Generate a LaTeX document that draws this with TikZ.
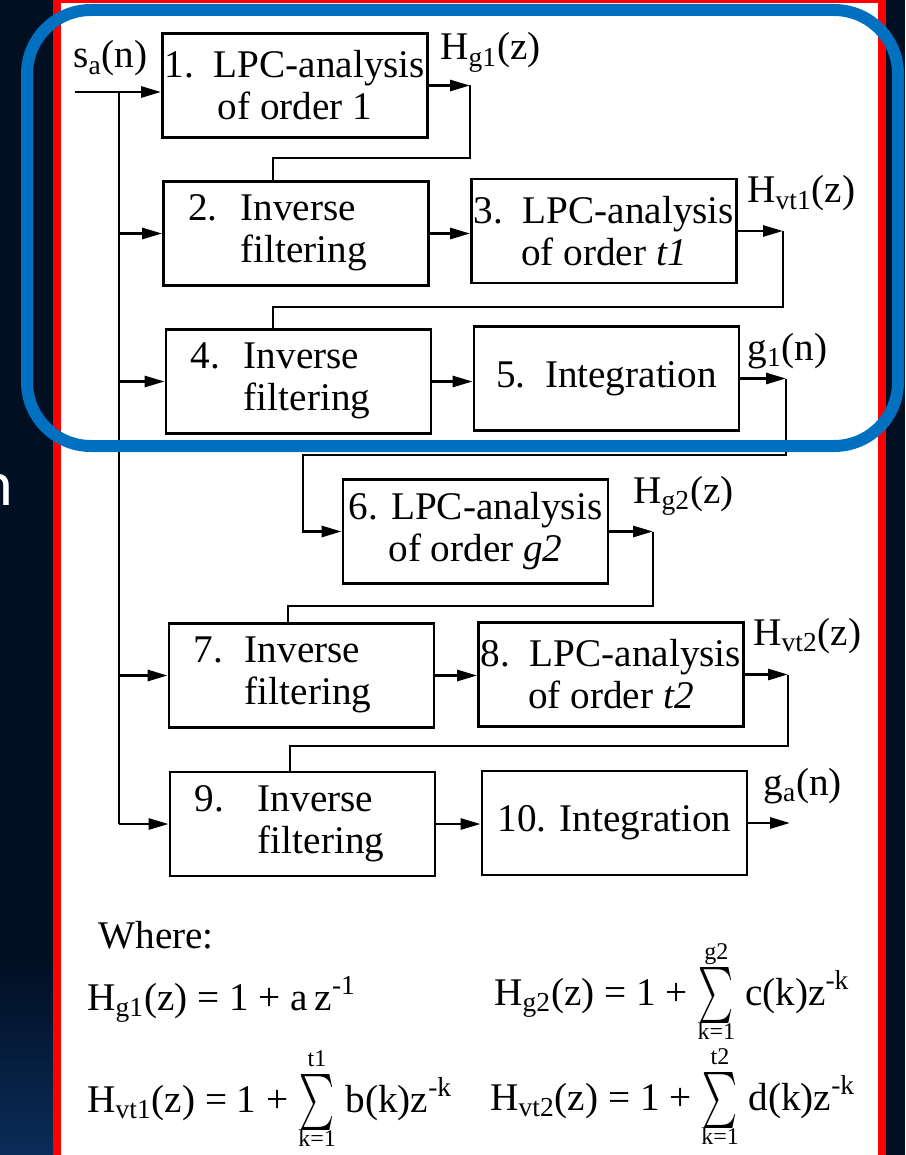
\documentclass[tikz,border=0pt]{standalone}
\usepackage{amsmath}
\usepackage{graphicx}
\usepackage{fontspec}
\setmainfont{Liberation Serif}
\newfontfamily\slidefont{Carlito}
\usepackage{tikz}
\usetikzlibrary{arrows.meta, positioning, calc}
\definecolor{slidenavy}{HTML}{010F23}
\definecolor{slidedeep}{HTML}{0A2C58}
\definecolor{framered}{HTML}{FF0000}
\definecolor{markblue}{HTML}{0070C0}
\newcommand{\bodyfont}{\fontsize{19.6}{21}\selectfont}
\newcommand{\nsum}[2]{$\vcenter{\hbox{\fontsize{12}{10}\selectfont\begin{tabular}{@{}c@{}}#2\\[1pt]\scalebox{0.8}[1.35]{\bodyfont$\textstyle\sum$}\\[3pt]#1\end{tabular}}}$}
\tikzset{
	blockbox/.style={draw, line width=1.4pt, minimum width=132.5pt, minimum height=52pt, inner sep=0pt, align=center, font=\bodyfont},
	invbox/.style={blockbox, align=left, text width=108pt, inner xsep=12pt},
	siglabel/.style={anchor=base west, inner sep=0pt, font=\bodyfont},
	sigline/.style={line width=1.4pt},
	sigarr/.style={sigline, -{Triangle[length=10pt, width=5.5pt]}},
}
\begin{document}
\begin{tikzpicture}[x=0.5pt, y=-0.5pt]
	\useasboundingbox (0,0) rectangle (905,1155);
	\fill[slidenavy] (0,0) rectangle (905,1155);
	\shade[top color=slidenavy, bottom color=slidedeep] (0,960) rectangle (53,1155);
	\node[anchor=base east, inner sep=0pt, text=white, font=\slidefont\fontsize{32}{32}\selectfont] (slideword) at (14,505) {n};
	\fill[white] (61,3) rectangle (878,1155);
	\draw[framered, line width=4pt] (57,-1) rectangle (882,1170);

	\node[blockbox] (lpc1) at (295,85.5) {1.\ \ LPC-analysis\\of order 1};
	\node[invbox] (inv2) at (296,233.5) {\begin{tabular}{@{}l@{\hspace{11.5pt}}l@{}}2. & Inverse\\ & filtering\end{tabular}};
	\node[blockbox] (lpc3) at (604,231) {3.\ \ LPC-analysis\\of order \textit{t1}};
	\node[invbox] (inv4) at (298.5,381.5) {\begin{tabular}{@{}l@{\hspace{12pt}}l@{}}4. & Inverse\\ & filtering\end{tabular}};
	\node[blockbox] (int5) at (606.5,378.5) {5.\ \ Integration};
	\node[blockbox] (lpc6) at (475.5,531.5) {6. LPC-analysis\\of order \textit{g2}};
	\node[invbox] (inv7) at (301.5,675.5) {\begin{tabular}{@{}l@{\hspace{11pt}}l@{}}7. & Inverse\\ & filtering\end{tabular}};
	\node[blockbox] (lpc8) at (611,674.5) {8.\ \ LPC-analysis\\of order \textit{t2}};
	\node[invbox] (inv9) at (302.5,824) {\begin{tabular}{@{}l@{\hspace{17pt}}l@{}}9. & Inverse\\ & filtering\end{tabular}};
	\node[blockbox] (int10) at (614.5,823) {10. Integration};

	\coordinate (sin) at (75,92);
	\coordinate (sjoin) at (119,92);
	\coordinate (hg1) at (470,85.5);
	\coordinate (fb1) at (273,158);
	\coordinate (hvt1) at (783,231);
	\coordinate (fb2) at (273,307);
	\coordinate (g1) at (786,378.5);
	\coordinate (fb3) at (303,455);
	\coordinate (hg2) at (653,531.5);
	\coordinate (fb4) at (288,606);
	\coordinate (hvt2) at (788,674.5);
	\coordinate (fb5) at (290,746);
	\coordinate (gout) at (790,823);

	\draw[sigarr] (sin) -- (sin -| lpc1.west);
	\draw[sigline] (sjoin) -- (sjoin |- inv9.west);
	\foreach \blk in {inv2, inv4, inv7, inv9}
		\draw[sigarr] (sjoin |- \blk.west) -- (\blk.west);
	\draw[sigarr] (lpc1.east) -- (hg1);
	\draw[sigline] (hg1) |- (fb1) -- (fb1 |- inv2.north);
	\draw[sigarr] (inv2.east) -- (inv2.east -| lpc3.west);
	\draw[sigarr] (lpc3.east) -- (hvt1);
	\draw[sigline] (hvt1) |- (fb2) -- (fb2 |- inv4.north);
	\draw[sigarr] (inv4.east) -- (inv4.east -| int5.west);
	\draw[sigarr] (int5.east) -- (g1);
	\draw[sigarr] (g1) |- (fb3) |- (lpc6.west);
	\draw[sigarr] (lpc6.east) -- (hg2);
	\draw[sigline] (hg2) |- (fb4) -- (fb4 |- inv7.north);
	\draw[sigarr] (inv7.east) -- (inv7.east -| lpc8.west);
	\draw[sigarr] (lpc8.east) -- (hvt2);
	\draw[sigline] (hvt2) |- (fb5) -- (fb5 |- inv9.north);
	\draw[sigarr] (inv9.east) -- (inv9.east -| int10.west);
	\draw[sigarr] (int10.east) -- (gout);

	\node[siglabel] (salab) at (73,68) {s\textsubscript{a}(n)};
	\node[siglabel] (hg1lab) at (440,60) {H\textsubscript{g1}(z)};
	\node[siglabel] (hvt1lab) at (747,203) {H\textsubscript{vt1}(z)};
	\node[siglabel] (g1lab) at (747,360) {g\textsubscript{1}(n)};
	\node[siglabel] (hg2lab) at (633,503) {H\textsubscript{g2}(z)};
	\node[siglabel] (hvt2lab) at (753,645) {H\textsubscript{vt2}(z)};
	\node[siglabel] (galab) at (763,795) {g\textsubscript{a}(n)};

	\node[siglabel] (where) at (98,948) {Where:};
	\node[siglabel] (eqhg1) at (87,1010) {H\textsubscript{g1}(z) = 1 + a\,z\textsuperscript{-1}};
	\node[siglabel] (eqhvt1) at (87,1112) {H\textsubscript{vt1}(z) = 1 + \nsum{k=1}{t1} b(k)z\textsuperscript{-k}};
	\node[siglabel] (eqhg2) at (494,1005) {H\textsubscript{g2}(z) = 1 + \nsum{k=1}{g2} c(k)z\textsuperscript{-k}};
	\node[siglabel] (eqhvt2) at (490,1110) {H\textsubscript{vt2}(z) = 1 + \nsum{k=1}{t2} d(k)z\textsuperscript{-k}};

	\draw[markblue, line width=6pt, rounded corners=32pt] (27,10) rectangle (898,446);
\end{tikzpicture}
\end{document}
